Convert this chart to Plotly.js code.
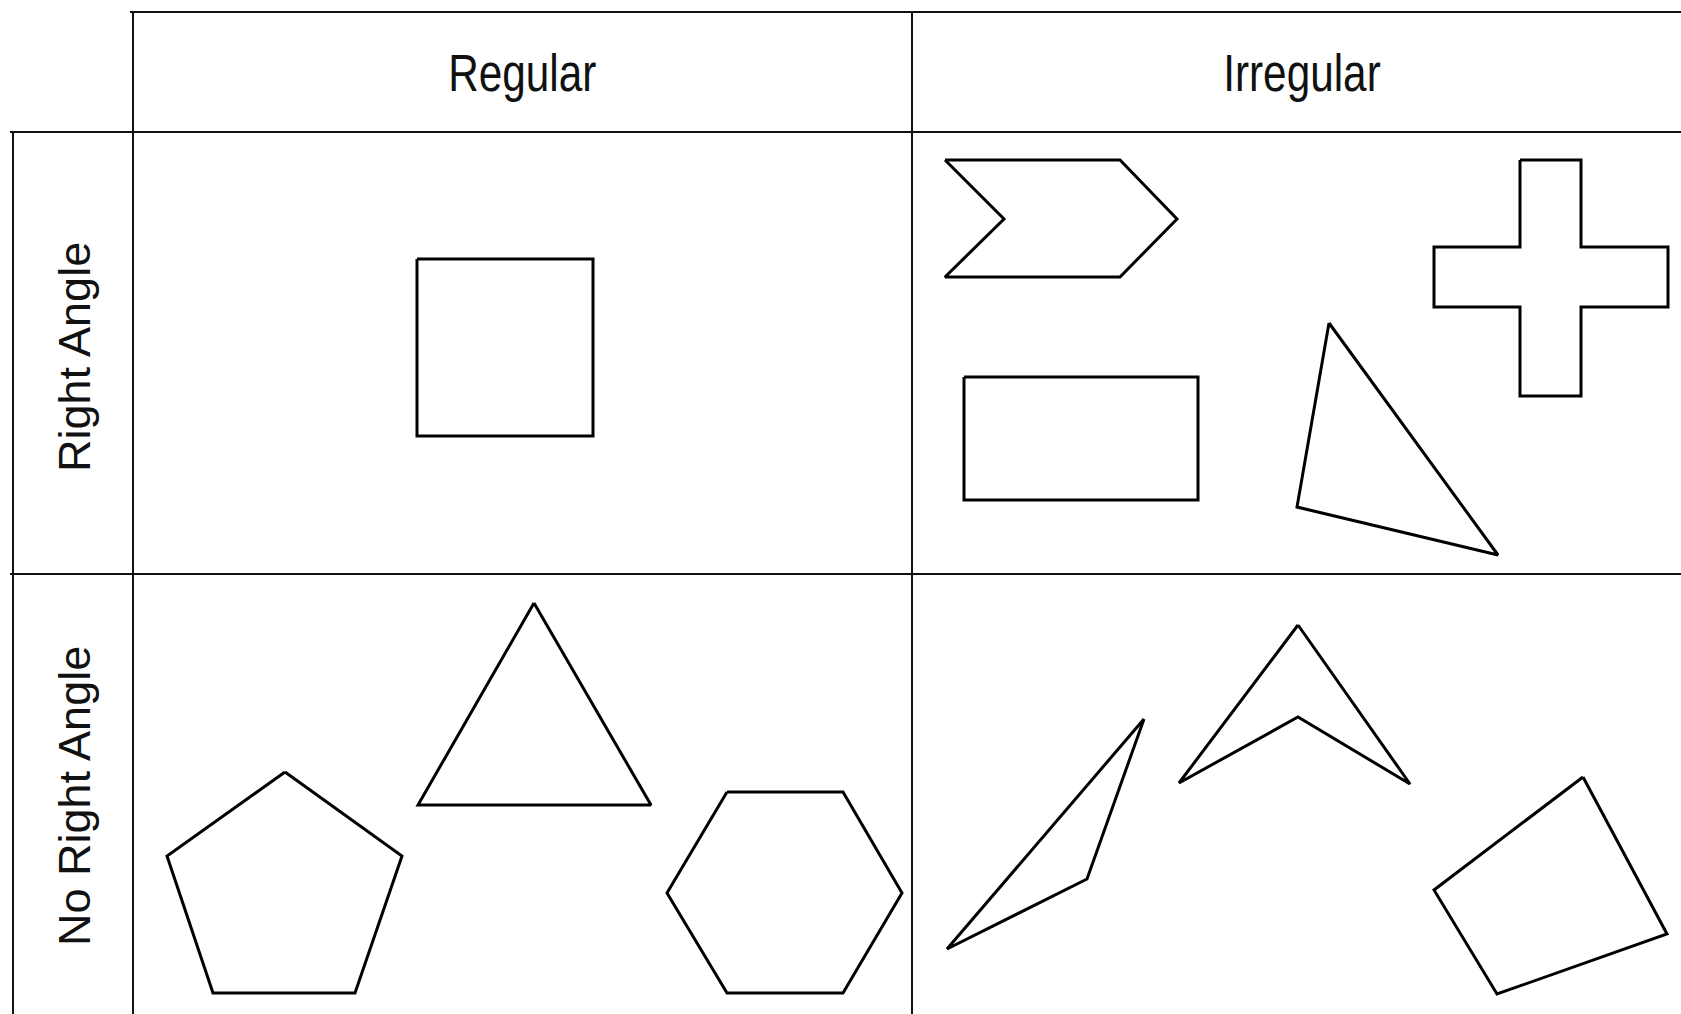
<!DOCTYPE html>
<html>
<head>
<meta charset="utf-8">
<script src="https://cdn.plot.ly/plotly-3.0.1.min.js"></script>
<style>
  html, body { margin: 0; padding: 0; background: #fff; }
  #plot { width: 1681px; height: 1014px; }
  /* the heading font is a narrow face; squeeze the sans we have */
  .narrow-head { transform-box: fill-box; transform-origin: center; transform: scaleX(0.83); }
</style>
</head>
<body>
<div id="plot"></div>
<script>
// column / row headings of the Carroll diagram
const colLabels = ['Regular', 'Irregular'];
const rowLabels = ['Right Angle', 'No Right Angle'];

// outline vertices of each shape (picture pixels, y going down)
const squareX = [417, 593, 593, 417];
const squareY = [259, 259, 436, 436];

const chevronX = [945, 1120, 1177, 1120, 945, 1004];
const chevronY = [160, 160, 219, 277, 277, 219];

const rectX = [964, 1198, 1198, 964];
const rectY = [377, 377, 500, 500];

const crossX = [1520, 1581, 1581, 1668, 1668, 1581, 1581, 1520, 1520, 1434, 1434, 1520];
const crossY = [160, 160, 247, 247, 307, 307, 396, 396, 307, 307, 247, 247];

const rightTriX = [1329, 1498, 1297];
const rightTriY = [323, 555, 507];

const pentagonX = [285, 402, 355, 213, 167];
const pentagonY = [772, 856, 993, 993, 856];

const equiTriX = [534, 651, 418];
const equiTriY = [603, 805, 805];

const hexagonX = [727, 843, 902, 843, 727, 667];
const hexagonY = [792, 792, 893, 993, 993, 893];

const obtuseTriX = [1144, 1087, 947];
const obtuseTriY = [719, 879, 949];

const arrowX = [1298, 1410, 1298, 1179];
const arrowY = [625, 784, 717, 783];

const quadX = [1583, 1667, 1497, 1434];
const quadY = [777, 934, 994, 890];

const shapes = [
  [squareX, squareY], [chevronX, chevronY], [rectX, rectY], [crossX, crossY],
  [rightTriX, rightTriY], [pentagonX, pentagonY], [equiTriX, equiTriY],
  [hexagonX, hexagonY], [obtuseTriX, obtuseTriY], [arrowX, arrowY], [quadX, quadY]
];

const W = 1681, H = 1014;

// close each outline and draw it as a line trace
const traces = shapes.map(function (s) {
  return {
    x: s[0].concat([s[0][0]]),
    y: s[1].concat([s[1][0]]),
    mode: 'lines',
    type: 'scatter',
    line: { color: '#000', width: 3 },
    hoverinfo: 'skip',
    showlegend: false
  };
});

// table rules
function rule(x0, y0, x1, y1) {
  return {
    type: 'line', xref: 'x', yref: 'y',
    x0: x0, y0: y0, x1: x1, y1: y1,
    line: { color: '#111', width: 2 }
  };
}
const tableLines = [
  rule(130, 12, W, 12),
  rule(10, 132, W, 132),
  rule(10, 574, W, 574),
  rule(133, 12, 133, H),
  rule(912, 12, 912, H),
  rule(13, 132, 13, H)
];

const headFont = { family: '"Liberation Sans Narrow", "Liberation Sans", Arial, sans-serif', size: 51, color: '#111' };
const sideFont = { family: '"Liberation Sans", Arial, sans-serif', size: 45, color: '#111' };

const annotations = [
  { text: colLabels[0], x: 522, y: 73, font: headFont },
  { text: colLabels[1], x: 1302, y: 73, font: headFont },
  { text: rowLabels[0], x: 74, y: 357, textangle: -90, font: sideFont },
  { text: rowLabels[1], x: 74, y: 796, textangle: -90, font: sideFont }
].map(function (a) {
  return Object.assign({ xref: 'x', yref: 'y', showarrow: false, xanchor: 'center', yanchor: 'middle' }, a);
});

const layout = {
  width: W,
  height: H,
  margin: { l: 0, r: 0, t: 0, b: 0 },
  paper_bgcolor: '#fff',
  plot_bgcolor: '#fff',
  xaxis: { range: [0, W], visible: false, fixedrange: true },
  yaxis: { range: [H, 0], visible: false, fixedrange: true },
  shapes: tableLines,
  annotations: annotations,
  showlegend: false
};

Plotly.newPlot('plot', traces, layout, { staticPlot: true, displayModeBar: false }).then(function (gd) {
  gd.querySelectorAll('.annotation').forEach(function (g) {
    const i = +g.getAttribute('data-index');
    if (i < colLabels.length) {
      const t = g.querySelector('text');
      if (t) t.classList.add('narrow-head');
    }
  });
});
</script>
</body>
</html>
